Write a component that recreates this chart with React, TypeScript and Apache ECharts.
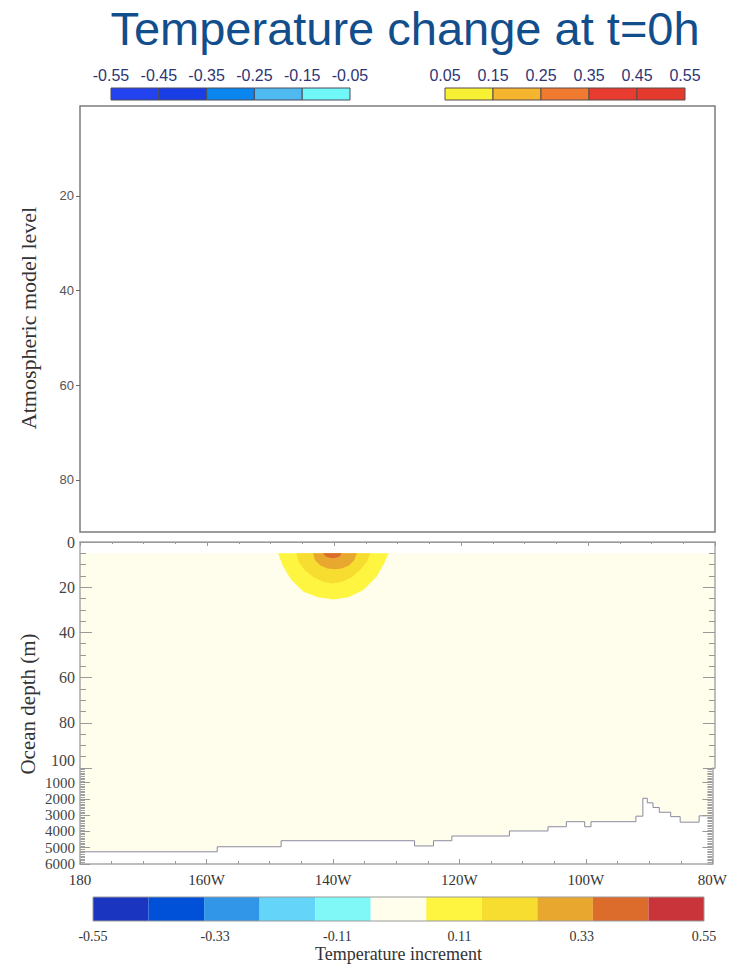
import React, { useEffect, useRef } from 'react';
import * as echarts from 'echarts';

const titleText = 'Temperature change at t=0h';
const atmosLabel = 'Atmospheric model level';
const oceanLabel = 'Ocean depth (m)';
const cbarName = 'Temperature increment';

const lonMin = 180;
const lonMax = 280;
const atmosLevelTicks = [20, 40, 60, 80];
const deepTicks = [1000, 2000, 3000, 4000, 5000, 6000];
const deepRightTicks = [1000, 2000, 3000, 4000, 5000];

const negLevels = [-0.55, -0.45, -0.35, -0.25, -0.15, -0.05];
const posLevels = [0.05, 0.15, 0.25, 0.35, 0.45, 0.55];
const negColors = ['#2443f0', '#1a3ee6', '#0a86ee', '#4fbaf0', '#70f8f8'];
const posColors = ['#f8f032', '#f5b52e', '#f07a30', '#e83c30', '#e43a2e'];

const fullLevels = [-0.55, -0.45, -0.35, -0.25, -0.15, -0.05, 0.05, 0.15, 0.25, 0.35, 0.45, 0.55];
const fullColors = ['#1a35c0', '#0050d8', '#3296e8', '#64d4f8', '#80f8f8', '#fffdeb', '#fef540', '#f6dd30', '#e8a830', '#dc6c2c', '#c8343a'];
const fullLabelValues = [-0.55, -0.33, -0.11, 0.11, 0.33, 0.55];

const oceanTopDepth = 5;
const oceanMidBottom = 100;

// contour polygons [lon (deg E), depth (m)]
const contour005 = [[211.2, 5], [212.0, 10.9], [213.3, 16.8], [215.2, 22.0], [217.5, 24.5], [219.9, 25.4], [222.3, 24.5], [224.6, 21.2], [226.7, 15.4], [227.9, 9.4], [228.6, 5]];
const contour015 = [[214.1, 5], [214.4, 8.5], [215.3, 12.2], [216.8, 15.6], [218.3, 17.6], [219.8, 18.4], [221.3, 17.6], [222.8, 15.6], [224.2, 12.2], [225.2, 8.5], [225.7, 5]];
const contour025 = [[216.7, 5], [217.0, 8.0], [217.8, 10.3], [219.0, 11.7], [220.1, 12.1], [221.2, 11.7], [222.4, 10.3], [223.2, 8.0], [223.6, 5]];
const contour035 = [[218.3, 5], [218.7, 6.4], [219.3, 7.0], [219.8, 7.2], [220.3, 7.0], [220.9, 6.4], [221.2, 5]];
const contourLevels = [0.05, 0.15, 0.25, 0.35];
const contours = [contour005, contour015, contour025, contour035];

// bathymetry steps: depth applies from lon to next lon
const bathyLon = [180, 201.7, 211.8, 232.9, 235.9, 238.8, 247.9, 254.0, 256.9, 259.8, 260.8, 267.9, 269.0, 269.7, 270.6, 271.6, 273.4, 274.9, 277.9, 280];
const bathyDepth = [5250, 4940, 4570, 4890, 4570, 4280, 3970, 3710, 3400, 3710, 3400, 3060, 1960, 2240, 2530, 2820, 3090, 3430, 3040, 3040];

const hatchTicks = Array.from({ length: 60 }, (_, i) => 100 + i * 100);

export default function App() {
  const ref = useRef<HTMLDivElement>(null);
  useEffect(() => {
    const chart = echarts.init(ref.current!, null, { renderer: 'svg' });
    const serif = '"Liberation Serif", "Times New Roman", serif';
    const sans = '"Liberation Sans", Arial, sans-serif';
    const lonFmt = (v: number) => (v === 180 ? '180' : `${360 - v}W`);
    const plain = (v: number) => String(v);
    const pairs = (lv: number[]) => lv.slice(0, -1).map((v, i) => [v, lv[i + 1]]);
    const cbRect = (colors: string[], stroke: string | null) => (params: any, api: any) => {
      const p1 = api.coord([api.value(0), 1]);
      const p2 = api.coord([api.value(1), 0]);
      return {
        type: 'rect',
        shape: { x: p1[0], y: p1[1], width: p2[0] - p1[0], height: p2[1] - p1[1] },
        style: stroke ? { fill: colors[params.dataIndex], stroke, lineWidth: 1 } : { fill: colors[params.dataIndex] },
      };
    };
    const cream = fullColors[5];
    const axisGray = '#a8a8a8';
    const tickGray = '#999';
    const hidden = { show: false };

    const option: any = {
      animation: false,
      backgroundColor: '#ffffff',
      grid: [
        { left: 80, top: 106, width: 635, height: 426, show: true, borderColor: '#7c7c7c', borderWidth: 1.5 },
        { left: 80, top: 542, width: 635, height: 226 },
        { left: 80, top: 768, width: 635, height: 96 },
        { left: 111, top: 88, width: 239, height: 12 },
        { left: 445, top: 88, width: 240, height: 12 },
        { left: 93, top: 897, width: 611, height: 24, show: true, borderColor: '#9a9a9a', borderWidth: 1, z: 5 },
      ],
      xAxis: [
        { gridIndex: 0, type: 'value', min: lonMin, max: lonMax, show: false },
        {
          gridIndex: 1, type: 'value', position: 'top', min: lonMin, max: lonMax, interval: 20, z: 10,
          axisLine: { lineStyle: { color: axisGray, width: 1.5 } },
          axisTick: { inside: true, length: 4, lineStyle: { color: tickGray } },
          minorTick: { show: true, splitNumber: 4, length: 2, lineStyle: { color: tickGray } },
          axisLabel: hidden, splitLine: hidden, minorSplitLine: hidden,
        },
        {
          gridIndex: 1, type: 'value', position: 'bottom', min: lonMin, max: lonMax, z: 10,
          axisLine: { lineStyle: { color: '#9a9a9a', width: 1 } },
          axisTick: hidden, axisLabel: hidden, splitLine: hidden,
        },
        {
          gridIndex: 2, type: 'value', position: 'bottom', min: lonMin, max: lonMax, interval: 20, z: 10,
          axisLine: { lineStyle: { color: axisGray, width: 1.5 } },
          axisTick: { inside: true, length: 5, lineStyle: { color: tickGray } },
          minorTick: { show: true, splitNumber: 4, length: 3, lineStyle: { color: tickGray } },
          axisLabel: { formatter: lonFmt, fontFamily: serif, fontSize: 15, color: '#333', margin: 8 },
          splitLine: hidden, minorSplitLine: hidden,
        },
        {
          gridIndex: 3, type: 'value', position: 'top', min: -0.55, max: -0.05,
          axisLine: hidden, axisTick: hidden, splitLine: hidden,
          axisLabel: { customValues: negLevels, formatter: (v: number) => v.toFixed(2), fontFamily: sans, fontSize: 16, color: '#2e3575', margin: 5 },
        },
        {
          gridIndex: 4, type: 'value', position: 'top', min: 0.05, max: 0.55,
          axisLine: hidden, axisTick: hidden, splitLine: hidden,
          axisLabel: { customValues: posLevels, formatter: (v: number) => v.toFixed(2), fontFamily: sans, fontSize: 16, color: '#2e3575', margin: 5 },
        },
        {
          gridIndex: 5, type: 'value', position: 'bottom', min: -0.55, max: 0.55,
          axisLine: hidden, axisTick: hidden, splitLine: hidden,
          axisLabel: { customValues: fullLabelValues, formatter: (v: number) => v.toFixed(2), fontFamily: serif, fontSize: 14, color: '#333', margin: 8 },
          name: cbarName, nameLocation: 'middle', nameGap: 24,
          nameTextStyle: { fontFamily: serif, fontSize: 18, color: '#333' },
        },
      ],
      yAxis: [
        {
          gridIndex: 0, type: 'value', inverse: true, min: 1, max: 91,
          axisLine: hidden, splitLine: hidden,
          axisTick: { show: true, customValues: atmosLevelTicks, length: 4, lineStyle: { color: '#666' } },
          axisLabel: { customValues: atmosLevelTicks, fontFamily: sans, fontSize: 13, color: '#555', margin: 6 },
        },
        {
          gridIndex: 1, type: 'value', position: 'left', inverse: true, min: 0, max: oceanMidBottom, interval: 20, z: 10,
          axisLine: { show: true, lineStyle: { color: axisGray, width: 1.5 } },
          axisTick: { show: true, inside: true, length: 12, lineStyle: { color: tickGray } },
          minorTick: { show: true, splitNumber: 4, length: 6, lineStyle: { color: tickGray } },
          axisLabel: { fontFamily: serif, fontSize: 16, color: '#444', margin: 5, showMinLabel: true, showMaxLabel: true, verticalAlignMaxLabel: 'bottom' },
          splitLine: hidden, minorSplitLine: hidden,
        },
        {
          gridIndex: 1, type: 'value', position: 'right', inverse: true, min: 0, max: oceanMidBottom, interval: 20, z: 10,
          axisLine: { show: true, lineStyle: { color: axisGray, width: 1.5 } },
          axisTick: { show: true, inside: true, length: 12, lineStyle: { color: tickGray } },
          minorTick: { show: true, splitNumber: 4, length: 6, lineStyle: { color: tickGray } },
          axisLabel: hidden, splitLine: hidden, minorSplitLine: hidden,
        },
        {
          gridIndex: 2, type: 'value', position: 'left', inverse: true, min: 100, max: 6000, z: 10,
          axisLine: { show: true, lineStyle: { color: axisGray, width: 1.5 } },
          axisTick: { show: true, inside: true, customValues: deepTicks, length: 10, lineStyle: { color: tickGray } },
          axisLabel: { customValues: deepTicks, formatter: plain, fontFamily: serif, fontSize: 15, color: '#444', margin: 5, showMaxLabel: true, showMinLabel: true },
          splitLine: hidden,
        },
        {
          gridIndex: 2, type: 'value', position: 'right', inverse: true, min: 100, max: 6000, z: 10,
          axisLine: { show: true, lineStyle: { color: axisGray, width: 1.5 } },
          axisTick: { show: true, inside: true, customValues: deepRightTicks, length: 10, lineStyle: { color: tickGray } },
          axisLabel: hidden, splitLine: hidden,
        },
        {
          gridIndex: 2, type: 'value', position: 'left', inverse: true, min: 100, max: 6000, z: 9, offset: 0,
          axisLine: hidden, axisLabel: hidden, splitLine: hidden,
          axisTick: { show: true, inside: true, customValues: hatchTicks, length: 5, lineStyle: { color: '#a0a0a0' } },
        },
        {
          gridIndex: 2, type: 'value', position: 'right', inverse: true, min: 100, max: 6000, z: 9, offset: 0,
          axisLine: hidden, axisLabel: hidden, splitLine: hidden,
          axisTick: { show: true, inside: true, customValues: hatchTicks, length: 5, lineStyle: { color: '#a0a0a0' } },
        },
        { gridIndex: 3, type: 'value', min: 0, max: 1, show: false },
        { gridIndex: 4, type: 'value', min: 0, max: 1, show: false },
        { gridIndex: 5, type: 'value', min: 0, max: 1, show: false },
      ],
      series: [
        {
          type: 'custom', xAxisIndex: 4, yAxisIndex: 7, data: pairs(negLevels),
          renderItem: cbRect(negColors, '#4a4a5a'),
        },
        {
          type: 'custom', xAxisIndex: 5, yAxisIndex: 8, data: pairs(posLevels),
          renderItem: cbRect(posColors, '#5a4a4a'),
        },
        {
          type: 'custom', xAxisIndex: 6, yAxisIndex: 9, data: pairs(fullLevels),
          renderItem: cbRect(fullColors, null),
        },
        {
          type: 'custom', xAxisIndex: 1, yAxisIndex: 1,
          data: [[lonMin, lonMax, oceanTopDepth, oceanMidBottom]],
          renderItem: (params: any, api: any) => {
            const p1 = api.coord([api.value(0), api.value(2)]);
            const p2 = api.coord([api.value(1), api.value(3)]);
            return {
              type: 'rect',
              shape: { x: p1[0], y: p1[1], width: p2[0] - p1[0], height: p2[1] - p1[1] },
              style: { fill: cream },
            };
          },
        },
        {
          type: 'custom', xAxisIndex: 1, yAxisIndex: 1,
          data: contourLevels.map((lv, i) => [contours[i][0][0], contours[i][0][1], lv]),
          renderItem: (params: any, api: any) => {
            const pts = contours[params.dataIndex].map((p) => api.coord(p));
            const lv = contourLevels[params.dataIndex];
            const ci = fullLevels.findIndex((l) => Math.abs(l - lv) < 1e-6);
            return { type: 'polygon', shape: { points: pts }, style: { fill: fullColors[ci] } };
          },
        },
        {
          type: 'line', xAxisIndex: 3, yAxisIndex: 3, step: 'end', showSymbol: false, symbol: 'none',
          data: bathyLon.map((lon, i) => [lon, bathyDepth[i]]),
          lineStyle: { color: '#8a8aa0', width: 1 },
          areaStyle: { color: cream, opacity: 1, origin: 'start' },
          z: 3,
        },
      ],
      graphic: [
        {
          type: 'text', x: 405, y: 28,
          style: { text: titleText, fill: '#124e8c', fontSize: 47, fontFamily: sans, textAlign: 'center', textVerticalAlign: 'middle', align: 'center', verticalAlign: 'middle' },
        },
        {
          type: 'text', x: 28, y: 318, rotation: Math.PI / 2,
          style: { text: atmosLabel, fill: '#333', fontSize: 22, fontFamily: serif, textAlign: 'center', textVerticalAlign: 'middle', align: 'center', verticalAlign: 'middle' },
        },
        {
          type: 'text', x: 28, y: 704, rotation: Math.PI / 2,
          style: { text: oceanLabel, fill: '#333', fontSize: 21, fontFamily: serif, textAlign: 'center', textVerticalAlign: 'middle', align: 'center', verticalAlign: 'middle' },
        },
      ],
    };
    chart.setOption(option);
    return () => chart.dispose();
  }, []);
  return <div ref={ref} style={{ position: 'absolute', left: 0, top: 0, width: 730, height: 965 }} />;
}
